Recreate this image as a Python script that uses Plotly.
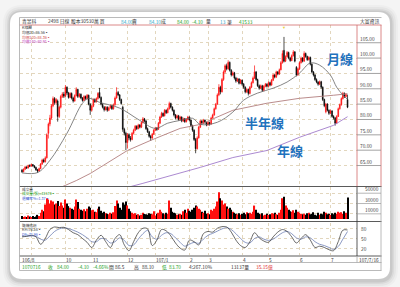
import plotly.graph_objects as go

W, H = 400, 287
FONT = "Noto Sans CJK TC, Noto Sans CJK SC, sans-serif"

# ---------------- data ----------------
OPEN = [63.5, 63.0, 63.8, 64.5, 64.2, 65.0, 64.8, 65.3, 64.9, 64.4,
        63.6, 63.2, 64.0, 65.5, 66.8, 66.2, 67.5, 75.5, 78.5, 80.5,
        84.5, 86.8, 85.5, 86.0, 81.0, 84.0, 87.5, 88.3, 87.6, 90.5,
        88.6, 87.2, 88.5, 87.0, 86.0, 87.8, 89.8, 87.5, 88.2, 87.0,
        86.2, 87.5, 86.8, 87.9, 85.0, 83.0, 84.3, 86.5, 85.8, 86.8,
        88.8, 87.2, 85.0, 84.0, 83.2, 84.0, 83.0, 83.8, 84.5, 83.5,
        84.8, 87.0, 88.8, 88.0, 86.5, 84.0, 76.8, 75.5, 72.5, 75.0,
        74.0, 73.5, 75.5, 76.5, 77.8, 77.0, 78.2, 77.5, 79.0, 80.2,
        79.5, 77.0, 76.0, 74.5, 74.0, 75.2, 76.5, 77.2, 76.8, 78.8,
        80.8, 82.0, 81.2, 83.0, 82.2, 83.5, 85.2, 84.0, 83.0, 81.5,
        80.5, 81.2, 80.0, 80.8, 79.5, 80.2, 79.3, 80.0, 80.8, 79.8,
        78.0, 76.5, 73.5, 70.5, 74.0, 77.5, 79.5, 78.8, 79.8, 79.0,
        78.2, 79.0, 78.5, 80.5, 81.5, 83.5, 85.0, 88.0, 90.5, 89.0,
        93.0, 95.5, 97.5, 96.5, 98.6, 96.0, 94.5, 95.2, 93.5, 92.5,
        93.2, 91.8, 92.8, 91.5, 90.5, 89.0, 89.8, 88.5, 90.5, 92.0,
        93.5, 95.5, 93.0, 91.0, 90.2, 91.0, 89.5, 90.8, 91.5, 90.8,
        92.0, 91.2, 92.8, 94.5, 93.8, 95.5, 94.8, 96.2, 98.5, 102.5,
        99.0, 100.5, 101.8, 100.0, 99.2, 100.8, 102.0, 97.0, 94.5, 96.5,
        98.5, 100.0, 99.0, 101.5, 100.5, 99.5, 100.2, 98.0, 95.5, 94.5,
        93.0, 92.2, 91.5, 92.3, 90.5, 86.5, 82.5, 85.0, 83.0, 82.0,
        82.8, 81.0, 80.5, 78.8, 81.0, 83.5, 84.8, 86.8, 88.5, 87.5,
        86.5]
CLOSE = [63.0, 63.8, 64.5, 64.2, 65.0, 64.8, 65.3, 64.9, 64.4, 63.6,
         63.2, 64.0, 65.5, 66.8, 66.2, 67.5, 75.0, 78.5, 80.5, 84.5,
         86.8, 85.5, 86.5, 81.0, 84.0, 87.5, 88.3, 87.6, 90.5, 88.6,
         87.2, 88.5, 87.0, 86.0, 87.8, 89.8, 87.5, 88.2, 87.0, 86.2,
         87.5, 86.8, 87.9, 85.0, 83.0, 84.3, 86.5, 85.8, 86.8, 88.5,
         87.2, 85.0, 84.0, 83.2, 84.0, 83.0, 83.8, 84.5, 83.5, 84.8,
         87.0, 88.8, 88.0, 86.5, 85.2, 76.8, 75.5, 72.5, 75.0, 74.0,
         73.5, 75.5, 76.5, 77.8, 77.0, 78.2, 77.5, 79.0, 80.2, 79.5,
         77.0, 76.0, 74.5, 74.0, 75.2, 76.5, 77.2, 76.8, 78.8, 80.8,
         82.0, 81.2, 83.0, 82.2, 83.5, 85.2, 84.0, 83.0, 81.5, 80.5,
         81.2, 80.0, 80.8, 79.5, 80.2, 79.3, 80.0, 80.8, 79.8, 78.0,
         76.5, 73.5, 70.5, 74.0, 77.5, 79.5, 78.8, 79.8, 79.0, 78.2,
         79.0, 78.5, 80.5, 81.5, 83.5, 85.0, 88.0, 90.5, 89.0, 93.0,
         95.5, 97.5, 96.5, 98.6, 96.0, 94.5, 95.2, 93.5, 92.5, 93.2,
         91.8, 92.8, 91.5, 90.5, 89.0, 89.8, 88.5, 90.5, 92.0, 93.5,
         95.5, 93.0, 91.0, 90.2, 91.0, 89.5, 90.8, 91.5, 90.8, 92.0,
         91.2, 92.8, 94.5, 93.8, 95.5, 94.8, 96.2, 98.5, 101.5, 99.0,
         100.5, 101.8, 100.0, 99.2, 100.8, 102.0, 99.0, 94.5, 96.5, 98.5,
         100.0, 99.0, 101.5, 100.5, 99.5, 100.2, 98.0, 95.5, 94.5, 93.0,
         92.2, 91.5, 92.3, 90.5, 86.5, 84.5, 85.0, 83.0, 82.0, 82.8,
         81.0, 80.5, 78.8, 81.0, 83.5, 84.8, 86.8, 88.5, 87.5, 88.1,
         84.0]
HIGH = [63.9, 64.1, 64.9, 64.8, 65.3, 65.4, 65.6, 65.5, 65.0, 64.6,
        63.9, 64.3, 65.8, 67.2, 67.3, 68.0, 75.5, 79.0, 81.5, 85.0,
        87.5, 87.3, 87.0, 86.5, 84.5, 88.0, 88.9, 89.0, 91.2, 90.8,
        89.0, 88.9, 88.8, 87.4, 88.2, 90.5, 90.0, 88.6, 88.5, 87.3,
        87.9, 87.8, 88.3, 88.1, 85.3, 84.7, 86.9, 86.9, 87.2, 88.9,
        90.3, 87.5, 85.3, 84.4, 84.4, 84.3, 84.2, 84.9, 84.8, 85.2,
        87.5, 90.5, 89.3, 88.3, 86.8, 84.5, 77.3, 76.0, 75.6, 75.5,
        74.6, 75.9, 77.0, 78.2, 78.1, 78.6, 78.5, 79.4, 80.8, 80.5,
        79.8, 77.4, 76.3, 75.0, 75.6, 76.9, 77.6, 77.5, 79.2, 81.2,
        82.5, 82.3, 83.4, 83.3, 83.9, 85.8, 85.5, 84.3, 83.3, 81.8,
        81.6, 81.5, 81.2, 81.0, 80.6, 80.5, 80.4, 81.2, 81.0, 80.0,
        78.3, 76.8, 74.0, 74.5, 77.9, 79.9, 79.8, 80.2, 80.0, 79.3,
        79.4, 79.3, 80.9, 81.9, 83.9, 85.4, 88.5, 91.5, 91.0, 93.5,
        96.0, 98.0, 98.2, 99.3, 98.9, 96.4, 95.7, 95.5, 93.9, 93.6,
        93.5, 93.2, 93.0, 91.9, 90.8, 90.2, 90.0, 90.9, 92.4, 94.0,
        97.6, 95.8, 93.3, 91.4, 91.4, 91.3, 91.2, 91.9, 91.8, 92.4,
        92.3, 93.2, 94.9, 94.8, 95.9, 95.8, 96.6, 99.0, 102.5, 106.9,
        100.9, 102.3, 102.1, 100.4, 101.2, 102.6, 102.3, 97.4, 96.9, 98.9,
        100.5, 100.3, 102.2, 101.8, 100.8, 100.6, 100.5, 98.3, 95.8, 94.8,
        93.4, 92.5, 92.7, 92.6, 90.8, 86.8, 85.4, 85.3, 83.3, 83.2,
        83.0, 81.4, 80.8, 81.4, 83.9, 85.2, 87.2, 89.0, 88.8, 88.6,
        88.1]
LOW = [62.6, 62.8, 63.5, 63.9, 64.0, 64.5, 64.6, 64.6, 64.1, 63.3,
       62.6, 63.0, 63.8, 65.2, 65.9, 66.0, 67.3, 73.8, 77.8, 80.0,
       84.0, 84.8, 84.9, 79.3, 80.5, 83.6, 87.0, 87.0, 87.3, 88.0,
       86.8, 86.9, 86.5, 85.5, 85.8, 87.5, 87.0, 87.1, 86.6, 85.8,
       86.0, 86.4, 86.5, 84.6, 81.5, 82.6, 84.0, 85.4, 85.5, 86.5,
       86.9, 84.6, 83.6, 82.6, 82.9, 82.5, 82.7, 83.5, 83.1, 83.2,
       84.5, 86.8, 87.6, 86.0, 84.8, 76.0, 74.8, 70.0, 70.5, 73.2,
       72.8, 73.2, 75.1, 76.2, 76.6, 76.8, 77.1, 77.2, 78.7, 79.0,
       76.6, 75.6, 74.1, 73.0, 73.6, 75.0, 76.2, 76.3, 76.6, 78.5,
       80.5, 80.8, 81.0, 81.8, 82.0, 83.2, 83.6, 82.6, 81.0, 80.0,
       80.2, 79.6, 79.7, 79.1, 79.2, 78.9, 79.0, 79.7, 79.4, 77.6,
       76.0, 73.0, 69.0, 70.2, 73.8, 77.2, 78.3, 78.5, 78.6, 77.8,
       77.9, 78.0, 78.3, 80.2, 81.2, 83.2, 84.8, 87.6, 88.2, 88.8,
       92.6, 95.0, 96.0, 96.2, 95.6, 94.0, 94.1, 93.0, 92.0, 92.2,
       91.4, 91.5, 91.0, 90.0, 88.5, 88.6, 87.8, 88.2, 90.2, 91.7,
       93.2, 92.6, 90.6, 89.7, 89.9, 89.0, 89.2, 90.5, 90.4, 90.5,
       90.8, 91.0, 92.5, 93.4, 93.5, 94.4, 94.5, 96.0, 98.2, 98.6,
       98.7, 100.2, 99.6, 98.8, 99.0, 100.5, 98.6, 94.0, 94.2, 96.2,
       98.2, 98.6, 98.8, 100.1, 99.1, 99.2, 97.6, 95.0, 94.0, 92.6,
       91.8, 91.0, 91.2, 90.0, 86.0, 84.0, 82.0, 82.6, 81.5, 81.7,
       80.6, 80.0, 78.0, 78.5, 80.8, 83.2, 84.5, 86.5, 87.0, 87.2,
       83.7]
VOLUME = [6000, 4000, 5000, 3500, 7000, 5000, 4000, 6000, 3000, 5000, 8000, 6000,
          12000, 18000, 15000, 28000,
          40000, 38000, 30000, 36000, 34000, 28000, 30000, 35000, 25000, 32000, 26000,
          22000, 38000, 30000, 25000, 22000, 20000, 18000, 24000, 38000, 33000, 20000,
          18000, 16000, 19000, 15000, 20000, 24000, 22000, 17000,
          18000, 14000, 13000, 20000, 24000, 16000, 12000, 14000, 11000, 10000, 9000,
          12000, 10000, 13000, 25000, 36000, 30000, 22000, 18000,
          32000, 28000, 34000, 26000, 20000, 15000,
          12000, 10000, 11000, 8000, 9000, 7000, 8000, 12000, 10000, 9000, 8000, 11000,
          10000, 9000, 15000, 7000, 10000, 12000, 18000, 14000, 11000, 9000, 12000, 10000,
          36000,
          22000, 14000, 12000, 11000, 8000, 9000, 10000, 8000, 15000, 18000, 12000, 20000,
          16000, 14000, 18000, 22000, 26000,
          24000, 20000, 18000, 14000, 12000, 16000, 10000, 11000, 9000, 18000, 16000, 20000, 24000,
          34000, 52000, 40000, 36000, 28000, 30000,
          24000, 20000, 22000, 18000, 14000, 12000, 10000, 9000, 11000, 8000, 10000, 12000,
          9000, 13000, 11000, 12000, 10000, 14000,
          26000, 18000, 12000, 10000, 9000, 11000, 7000, 8000, 10000, 8000, 9000, 11000,
          10000, 12000, 9000, 8000, 12000, 18000,
          40000, 43000, 26000, 22000, 18000, 15000, 14000, 17000, 12000, 18000, 14000, 12000, 10000,
          9000, 10000, 8000, 11000, 12000, 9000, 10000, 13000, 8000, 7000, 12000, 8000, 10000,
          9000, 14000, 12000, 9000, 10000, 8000, 11000, 9000, 12000, 10000, 14000, 12000, 13000,
          10000, 15000, 12000,
          41574]

MA20_IDX = [0, 10, 18, 29, 39, 43, 50, 63, 76, 86, 94, 102, 110, 115, 126, 136, 143,
            152, 162, 171, 179, 186, 192, 199, 203, 207, 210]
MA20_VAL = [62.6, 62.7, 66.7, 75.5, 85.3, 86.9, 85.6, 83.7, 79.7, 77.1, 78.8, 79.7, 80.4,
            78.4, 79.1, 82.4, 86.3, 88.6, 90.2, 92.2, 95.1, 98.4, 97.7, 94.4, 90.5, 88.0, 86.56]
MA120_IDX = [20, 35, 44, 68, 83, 102, 115, 136, 158, 179, 201, 210]
MA120_VAL = [56.8, 60.1, 62.4, 69.9, 73.2, 77.1, 78.4, 83.0, 85.3, 86.9, 87.9, 88.36]
MA240_IDX = [60, 78, 115, 136, 158, 179, 201, 210]
MA240_VAL = [56.8, 59.2, 64.4, 67.6, 69.9, 74.2, 78.1, 80.91]

KD_IDX = list(range(0, 211, 3))
K_VAL = [55, 57, 60, 55, 32, 50, 78, 86, 84, 85,
         78, 68, 62, 50, 38, 22, 45, 60, 40, 22,
         50, 62, 30, 12, 40, 68, 82, 80, 28, 45,
         78, 74, 58, 36, 20, 14, 45, 40, 30, 65,
         72, 70, 82, 87, 86, 70, 45, 28, 22, 40,
         68, 52, 42, 38, 55, 70, 78, 72, 55, 36,
         50, 62, 45, 22, 26, 22, 15, 12, 40, 76,
         76.58]
D_VAL = [58, 57, 58, 57, 48, 45, 58, 72, 80, 83,
         81, 76, 70, 62, 52, 40, 40, 50, 48, 36,
         40, 52, 44, 28, 30, 48, 65, 75, 55, 48,
         60, 68, 65, 52, 38, 26, 32, 38, 35, 48,
         60, 66, 73, 80, 84, 78, 65, 50, 38, 36,
         50, 55, 48, 44, 48, 58, 68, 72, 65, 52,
         48, 55, 52, 40, 32, 28, 22, 16, 25, 48,
         71.96]

MONTH_IDX = [6, 28, 45, 68, 86, 108, 120, 142, 159, 179, 199]
MONTH_TXT = ["", "10", "11", "12", "107/1", "2", "3", "4", "5", "6", "7"]
PRICE_TICKS = [65, 70, 75, 80, 85, 90, 95, 100, 105]
VOL_TICKS = [10000, 30000, 50000]
KD_TICKS = [20, 50, 80]

assert len(OPEN) == len(CLOSE) == len(HIGH) == len(LOW) == len(VOLUME)
assert len(K_VAL) == len(D_VAL) == len(KD_IDX)
IDX = list(range(len(CLOSE)))

# ---------------- helpers (pixel -> paper) ----------------
def px(x):
    return x / W


def py(y):
    return 1 - y / H


def rrect(x0, y0, x1, y1, r):
    return (f"M{px(x0 + r)},{py(y0)} L{px(x1 - r)},{py(y0)} "
            f"Q{px(x1)},{py(y0)} {px(x1)},{py(y0 + r)} L{px(x1)},{py(y1 - r)} "
            f"Q{px(x1)},{py(y1)} {px(x1 - r)},{py(y1)} L{px(x0 + r)},{py(y1)} "
            f"Q{px(x0)},{py(y1)} {px(x0)},{py(y1 - r)} L{px(x0)},{py(y0 + r)} "
            f"Q{px(x0)},{py(y0)} {px(x0 + r)},{py(y0)} Z")


shapes = []
for g, a in [(7, 0.025), (5, 0.035), (3, 0.05), (1.5, 0.07)]:
    shapes.append(dict(type="path", xref="paper", yref="paper", layer="below",
                       path=rrect(10 - g, 12 - g, 390 + g + 1, 279 + g + 2, 12 + g),
                       fillcolor=f"rgba(0,0,0,{a})", line=dict(width=0)))
shapes.append(dict(type="path", xref="paper", yref="paper", layer="below",
                   path=rrect(10, 12, 390, 279, 12), fillcolor="#ffffff",
                   line=dict(width=0)))


def hl(y, x0, x1, color, w=0.8):
    shapes.append(dict(type="line", xref="paper", yref="paper", x0=px(x0), x1=px(x1),
                       y0=py(y), y1=py(y), line=dict(color=color, width=w)))


def vl(x, y0, y1, color, w=0.8):
    shapes.append(dict(type="line", xref="paper", yref="paper", x0=px(x), x1=px(x),
                       y0=py(y0), y1=py(y1), line=dict(color=color, width=w)))


RED = "#d26a6a"
DK = "#5a5a5a"
LG = "#a8a8a8"
hl(17.5, 19.5, 381.5, LG)
hl(25, 19.5, 381.5, RED)
hl(186.5, 19.5, 381.5, DK, 1)
hl(221.5, 19.5, 381.5, DK, 1)
hl(256, 19.5, 381.5, DK, 1)
hl(262.5, 19.5, 381.5, LG)
hl(270.5, 19.5, 381.5, LG)
vl(19.5, 17.5, 270.5, LG)
vl(357, 25, 186.5, RED)
vl(381, 25, 186.5, RED)
vl(357, 186.5, 256, "#303030")
vl(381, 186.5, 270.5, LG)
vl(357, 256, 262.5, LG)

for v in PRICE_TICKS:
    shapes.append(dict(type="line", xref="paper", yref="y", x0=px(357), x1=px(381),
                       y0=v, y1=v, line=dict(color="#8c8c8c", width=0.8)))
for v in VOL_TICKS:
    shapes.append(dict(type="line", xref="paper", yref="y2", x0=px(357), x1=px(381),
                       y0=v, y1=v, line=dict(color="#9a9a9a", width=0.7)))

annotations = []


def txt(x, y, s, size=5.0, color="#333333", anchor="left", xref="paper", yref="paper",
        yanchor="middle"):
    annotations.append(dict(
        x=px(x) if xref == "paper" else x,
        y=py(y) if yref == "paper" else y,
        xref=xref, yref=yref, text=s, showarrow=False, xanchor=anchor,
        yanchor=yanchor, borderpad=0,
        font=dict(family=FONT, size=size, color=color)))


CY = "#2ea6c8"
GR = "#23a023"
# header
for x, s, c in [(21, "青昱科", "#333"), (47, "2498 日線", "#333"), (70, "股本30530萬 買", "#333"),
                (120, "84.00", CY), (131, "賣", "#333"), (148, "84.10", CY), (160, "成", "#333"),
                (176, "84.00", GR), (191, "-4.10", GR), (205, "量", "#333"), (219, "13", CY),
                (226, "筆", "#333"), (238, "41533", GR)]:
    txt(x, 21.5, s, 4.8, c)
txt(380, 21.5, "大富資訊", 4.8, "#333", anchor="right")

# legends
LS = 3.7
txt(21, 28.0, "K線圖", LS)
txt(21, 32.6, "均價20=86.56▪", LS, "#333333")
txt(21, 37.2, "均價120=88.36▪", LS, "#d04a4a")
txt(21, 41.8, "均價240=80.91▪", LS, "#c03cc0")
txt(21, 189.0, "成交量", LS)
txt(21, 193.6, "成交量(張)=41574▪", LS, GR)
txt(21, 198.2, "週轉率%=1.37▪", LS, "#3a5ad0")
txt(21, 225.0, "隨機指標", LS)
txt(21, 229.6, "K9=76.58▪", LS, "#333333")
txt(21, 234.2, "D9=71.96▪", LS, "#3a5ad0")

# right axis labels
for v in PRICE_TICKS:
    txt(359, v, f"{v:.2f}", 4.8, "#444444", xref="paper", yref="y", yanchor="bottom")
for v in VOL_TICKS:
    txt(364, v, f"{v}", 4.8, "#444444", xref="paper", yref="y2", yanchor="bottom")
for v in KD_TICKS:
    txt(360, v, f"{v}", 4.8, "#444444", xref="paper", yref="y3")

# date row
txt(20.5, 259.3, "106/8", 4.8, "#333")
for i, s in zip(MONTH_IDX, MONTH_TXT):
    if s:
        txt(i, 259.3, s, 4.8, "#333", xref="x3")
txt(380, 259.3, "107/7/16", 4.8, "#333", anchor="right")

# info row
RD = "#e03030"
for x, s, c in [(21, "1070716", GR), (47, "收", GR), (56, "84.00", GR), (77, "-4.10", GR),
                (92, "-4.66%", GR), (108, "開", "#333"), (114, "86.5", "#333"), (133, "高", "#333"),
                (141, "88.10", "#333"), (161, "低", GR), (168, "83.70", GR),
                (188, "4:267.10%", "#333"), (230, "13137量", "#333"), (255, "35.15億", RD)]:
    txt(x, 266.5, s, 4.8, c)

# big labels
BL = "#1f72bd"
txt(340, 59, "<b>月線</b>", 13, BL, anchor="center")
txt(264, 122, "<b>半年線</b>", 13, BL, anchor="center")
txt(290, 150, "<b>年線</b>", 13, BL, anchor="center")

# small yellow marker above the period high
annotations.append(dict(x=169, y=110.0, xref="x", yref="y", text="▼", showarrow=False,
                        font=dict(size=4, color="#e8d040")))

# ---------------- traces ----------------
vol_colors = ["#ff1010" if c >= o else "#000000" for o, c in zip(OPEN, CLOSE)]

fig = go.Figure()
fig.add_trace(go.Candlestick(
    x=IDX, open=OPEN, high=HIGH, low=LOW, close=CLOSE, xaxis="x", yaxis="y",
    increasing=dict(line=dict(color="#ff1010", width=0.7), fillcolor="#ff1010"),
    decreasing=dict(line=dict(color="#000000", width=0.7), fillcolor="#000000"),
    whiskerwidth=0, hoverinfo="skip", showlegend=False))
fig.add_trace(go.Scatter(x=MA240_IDX, y=MA240_VAL, mode="lines", xaxis="x", yaxis="y",
                         line=dict(color="#a27ccb", width=0.9), hoverinfo="skip",
                         showlegend=False))
fig.add_trace(go.Scatter(x=MA120_IDX, y=MA120_VAL, mode="lines", xaxis="x", yaxis="y",
                         line=dict(color="#b27f7f", width=0.9), hoverinfo="skip",
                         showlegend=False))
fig.add_trace(go.Scatter(x=MA20_IDX, y=MA20_VAL, mode="lines", xaxis="x", yaxis="y",
                         line=dict(color="#666666", width=0.8, shape="spline"),
                         hoverinfo="skip", showlegend=False))
fig.add_trace(go.Bar(x=IDX, y=VOLUME, xaxis="x2", yaxis="y2", marker_color=vol_colors,
                     marker_line_width=0, hoverinfo="skip", showlegend=False))
fig.add_trace(go.Scatter(x=KD_IDX, y=D_VAL, mode="lines", xaxis="x3", yaxis="y3",
                         line=dict(color="#6d7fb4", width=0.8, shape="spline"),
                         hoverinfo="skip", showlegend=False))
fig.add_trace(go.Scatter(x=KD_IDX, y=K_VAL, mode="lines", xaxis="x3", yaxis="y3",
                         line=dict(color="#444444", width=0.8, shape="spline"),
                         hoverinfo="skip", showlegend=False))

GRID = "#e2d6bd"
XDOM = [px(20), px(357)]
XR = [-1.3, 216.1]
xcommon = dict(domain=XDOM, range=XR, tickvals=MONTH_IDX, showticklabels=False,
               showgrid=True, gridcolor=GRID, griddash="dot", gridwidth=0.8,
               zeroline=False, showline=False, ticks="", fixedrange=True)
fig.update_layout(
    width=W, height=H, autosize=False,
    margin=dict(l=0, r=0, t=0, b=0, pad=0),
    paper_bgcolor="#f4f4f4", plot_bgcolor="rgba(0,0,0,0)",
    bargap=0.3, showlegend=False, hovermode=False,
    xaxis=dict(**xcommon, anchor="y", rangeslider=dict(visible=False)),
    xaxis2=dict(**xcommon, anchor="y2", matches="x"),
    xaxis3=dict(**xcommon, anchor="y3", matches="x"),
    yaxis=dict(domain=[py(186.5), py(25)], range=[58.17, 110.78], tickvals=PRICE_TICKS,
               showticklabels=False, showgrid=True, gridcolor=GRID, griddash="dot",
               gridwidth=0.8, zeroline=False, ticks="", fixedrange=True),
    yaxis2=dict(domain=[py(219), py(187)], range=[0, 62000], tickvals=VOL_TICKS,
                showticklabels=False, showgrid=True, gridcolor=GRID, griddash="dot",
                gridwidth=0.6, zeroline=False, ticks="", fixedrange=True),
    yaxis3=dict(domain=[py(254.5), py(222.5)], range=[0, 100], tickvals=KD_TICKS,
                showticklabels=False, showgrid=True, gridcolor=GRID, griddash="dot",
                gridwidth=0.6, zeroline=False, ticks="", fixedrange=True),
    shapes=shapes, annotations=annotations,
)

fig.write_html("out.html", config={"displayModeBar": False})
